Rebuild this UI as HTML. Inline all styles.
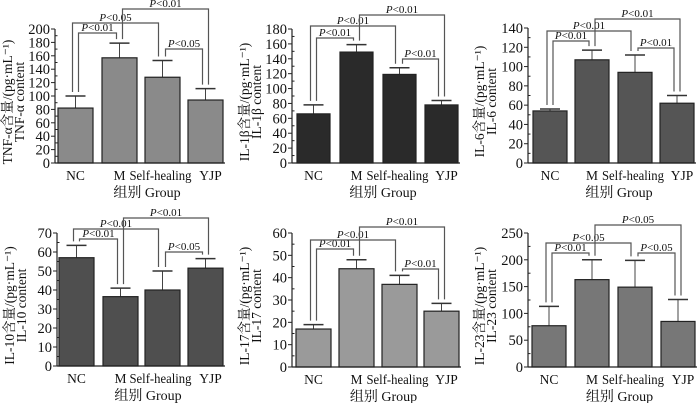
<!DOCTYPE html>
<html><head><meta charset="utf-8">
<style>
html,body{margin:0;padding:0;background:#fff;}
svg{display:block;}
text{font-family:"Liberation Serif","Noto Serif CJK SC",serif;fill:#111;}
</style></head>
<body>
<svg id="fig" width="700" height="403" viewBox="0 0 700 403" xmlns="http://www.w3.org/2000/svg"></svg>
<script>
const categories = ["NC","M","Self-healing","YJP"];

const tnfValues = [82,157,128,94];
const tnfErrTops = [100,179,153,111];
const tnfTicks = [0,20,40,60,80,100,120,140,160,180,200];
const tnfSig = ["P<0.01","P<0.05","P<0.01","P<0.05"];

const il1bValues = [66,149,119,78];
const il1bErrTops = [78,159,128,84];
const il1bTicks = [0,20,40,60,80,100,120,140,160,180];
const il1bSig = ["P<0.01","P<0.01","P<0.01","P<0.01"];

const il6Values = [54,107,94,62];
const il6ErrTops = [56,117,112,70];
const il6Ticks = [0,20,40,60,80,100,120,140];
const il6Sig = ["P<0.01","P<0.01","P<0.01","P<0.01"];

const il10Values = [57,36.5,40,51.5];
const il10ErrTops = [63.5,41,50,56.5];
const il10Ticks = [0,10,20,30,40,50,60,70];
const il10Sig = ["P<0.01","P<0.01","P<0.01","P<0.05"];

const il17Values = [17,44,37,25];
const il17ErrTops = [19,48,41,28.5];
const il17Ticks = [0,10,20,30,40,50,60];
const il17Sig = ["P<0.01","P<0.01","P<0.01","P<0.01"];

const il23Values = [77,163,149,85];
const il23ErrTops = [113,200,199,126];
const il23Ticks = [0,50,100,150,200,250];
const il23Sig = ["P<0.01","P<0.05","P<0.05","P<0.05"];

const NS="http://www.w3.org/2000/svg";
const svg=document.getElementById('fig');
function mk(tag,attrs,parent){const e=document.createElementNS(NS,tag);for(const k in attrs)e.setAttribute(k,attrs[k]);(parent||svg).appendChild(e);return e;}

const panels=[
 {key:'tnf',ax:55,y0:163,yTop:29,bx:[58,102,145,188],bw:35,fill:'#8a8a8a',values:tnfValues,errs:tnfErrTops,ticks:tnfTicks,sig:tnfSig,lv:[33,23,9,49],t1:'TNF-α含量/(pg·mL⁻¹)',t2:'TNF-α content',tx:8},
 {key:'il1b',ax:292,y0:163,yTop:29,bx:[297,340,383,425],bw:33,fill:'#2a2a2a',values:il1bValues,errs:il1bErrTops,ticks:il1bTicks,sig:il1bSig,lv:[38,26,15,59],t1:'IL-1β含量/(pg·mL⁻¹)',t2:'IL-1β content',tx:245},
 {key:'il6',ax:528,y0:163,yTop:28,bx:[533,575,618,660],bw:34,fill:'#555555',values:il6Values,errs:il6ErrTops,ticks:il6Ticks,sig:il6Sig,lv:[41,31,19,48],t1:'IL-6含量/(pg·mL⁻¹)',t2:'IL-6 content',tx:480},
 {key:'il10',ax:57,y0:366,yTop:233,bx:[59,103,145,188],bw:35,fill:'#4f4f4f',values:il10Values,errs:il10ErrTops,ticks:il10Ticks,sig:il10Sig,lv:[239,229,218,252],t1:'IL-10含量/(pg·mL⁻¹)',t2:'IL-10 content',tx:10},
 {key:'il17',ax:292,y0:367,yTop:233,bx:[296,339,382,424],bw:35,fill:'#9a9a9a',values:il17Values,errs:il17ErrTops,ticks:il17Ticks,sig:il17Sig,lv:[249,240,227,269],t1:'IL-17含量/(pg·mL⁻¹)',t2:'IL-17 content',tx:245},
 {key:'il23',ax:528,y0:367,yTop:233,bx:[532,575,618,661],bw:34,fill:'#777777',values:il23Values,errs:il23ErrTops,ticks:il23Ticks,sig:il23Sig,lv:[253,243,225,253],t1:'IL-23含量/(pg·mL⁻¹)',t2:'IL-23 content',tx:480}
];
const labelShift=[0,0,-2,5];

panels.forEach(p=>{
  const g=mk('g',{});
  
  
  const maxT=p.ticks[p.ticks.length-1];
  const yS=v=>p.y0-(v/maxT)*(p.y0-p.yTop);
  const right=p.bx[3]+p.bw+2;
  p.values.forEach((v,i)=>{
    const cx=p.bx[i]+p.bw/2;
    const ln=mk('line',{x1:cx,x2:cx,y1:yS(v),y2:yS(p.errs[i]),stroke:'#444','stroke-width':1},g);
    
    
    const cap=mk('line',{x1:cx-10,x2:cx+10,y1:yS(p.errs[i]),y2:yS(p.errs[i]),stroke:'#333','stroke-width':1.5},g);
    
    
    const r=mk('rect',{x:p.bx[i],y:yS(v),width:p.bw,height:p.y0-yS(v),fill:p.fill,stroke:'#222','stroke-width':1.2},g);
    
    
    const attrs={x:cx+labelShift[i],y:p.y0+17,'text-anchor':'middle','font-size':13.5};
    if(i===2){attrs.textLength=62;attrs.lengthAdjust='spacingAndGlyphs';}
    const t=mk('text',attrs,g);
    t.textContent=categories[i];
    
    
  });
  const xa=mk('line',{x1:p.ax,x2:right,y1:p.y0,y2:p.y0,stroke:'#222','stroke-width':1.2},g);
  
  
  const ya=mk('line',{x1:p.ax,x2:p.ax,y1:p.y0,y2:p.yTop,stroke:'#222','stroke-width':1.2},g);
  
  
  p.ticks.forEach((tv,k)=>{
    const y=yS(tv);
    mk('line',{x1:p.ax-4,x2:p.ax,y1:y,y2:y,stroke:'#222','stroke-width':1},g);
    if(k<p.ticks.length-1){const ym=yS((tv+p.ticks[k+1])/2);mk('line',{x1:p.ax,x2:p.ax+2.5,y1:ym,y2:ym,stroke:'#222','stroke-width':1},g);}
    const t=mk('text',{x:p.ax-5,y:y+5,'text-anchor':'end','font-size':14.5},g);
    t.textContent=tv;
    
    
  });
  const xt=mk('text',{x:(p.ax+right)/2+7,y:p.y0+34,'text-anchor':'middle','font-size':14},g);
  xt.textContent='组别 Group';
  
  
  const cy=(p.y0+p.yTop)/2+6;
  const yt=mk('text',{x:0,y:0,'text-anchor':'middle','font-size':13.5,transform:`translate(${p.tx+4},${cy}) rotate(-90)`},g);
  yt.textContent=p.t1;
  
  
  const yt2=mk('text',{x:0,y:0,'text-anchor':'middle','font-size':13.5,transform:`translate(${p.tx+16},${cy}) rotate(-90)`},g);
  yt2.textContent=p.t2;
  
  
  const pairs=[[0,1],[0,2],[1,3],[2,3]];
  const offs=[[3,-3],[-3,-4],[3,3],[3,-3]];
  pairs.forEach((pr,k)=>{
    const a=pr[0],b=pr[1];
    const xa1=p.bx[a]+p.bw/2+offs[k][0], xb1=p.bx[b]+p.bw/2+offs[k][1];
    const ly=p.lv[k];
    const ya1=yS(p.errs[a])-4, yb1=yS(p.errs[b])-4;
    const pl=mk('polyline',{points:`${xa1},${ya1} ${xa1},${ly} ${xb1},${ly} ${xb1},${yb1}`,fill:'none',stroke:'#555','stroke-width':1.2},g);
    
    
    const lt=mk('text',{x:(xa1+xb1)/2,y:ly-2,'text-anchor':'middle','font-size':11},g);
    
    
    const s=p.sig[k];
    const it=mk('tspan',{'font-style':'italic'},lt);it.textContent='P';
    const rs=mk('tspan',{},lt);rs.textContent=s.slice(1);
  });
});
</script>
</body></html>
